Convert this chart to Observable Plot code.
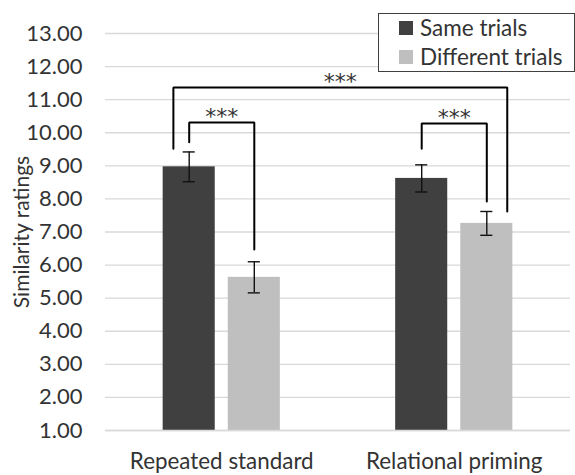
<!DOCTYPE html>
<html>
<head>
<meta charset="utf-8">
<script src="https://cdn.jsdelivr.net/npm/d3@7"></script>
<script src="https://cdn.jsdelivr.net/npm/@observablehq/plot@0.6"></script>
<style>
  html, body { margin: 0; padding: 0; background: #fff; }
  #wrap { position: relative; width: 575px; height: 475px; font-family: Lato, sans-serif; }
  #legend { position: absolute; left: 378px; top: 13px; width: 197px; height: 59px; border: 1px solid #404040; background: #fff; box-sizing: border-box; color: #333; font-size: 22.5px; }
  #legend .item { position: absolute; left: 20px; display: flex; align-items: center; white-space: nowrap; line-height: 26px; }
  #legend .sw { width: 14px; height: 14px; margin-right: 7px; display: inline-block; }
</style>
</head>
<body>
<div id="wrap"></div>
<script>
// ---- data ----
const groups = ["Repeated standard", "Relational priming"];
const conditions = ["Same trials", "Different trials"];
const colors = ["#404040", "#bfbfbf"];
const sameMeans = [8.97, 8.62];
const diffMeans = [5.63, 7.26];
const sameErr = [0.45, 0.41];
const diffErr = [0.47, 0.36];
const yTicks = [1,2,3,4,5,6,7,8,9,10,11,12,13];

// significance brackets: [group, condition, offset] for each end
const bracketLeft  = [[0, 0, 0], [1, 0, 0], [0, 0, -0.068]];
const bracketRight = [[0, 1, 0], [1, 1, 0], [1, 1, 0.088]];
const bracketTop   = [10.31, 10.28, 11.37];
const bracketLeftBottom  = [9.71, 9.52, 9.52];
const bracketRightBottom = [6.47, 7.92, 7.62];
const bracketLabel = ["***", "***", "***"];

// ---- layout helpers ----
const condOffset = [-0.14, 0.14];
const barHalf = 0.112;
const capHalf = 0.026;
const xOf = (g, c) => g + condOffset[c];

const bars = [];
groups.forEach((g, gi) => {
  [sameMeans, diffMeans].forEach((arr, ci) => {
    const err = ci === 0 ? sameErr[gi] : diffErr[gi];
    bars.push({group: g, gi, cond: conditions[ci], ci, value: arr[gi], lo: arr[gi] - err, hi: arr[gi] + err, xc: xOf(gi, ci)});
  });
});

const bracketPts = [];
const bracketText = [];
bracketTop.forEach((top, i) => {
  const [lg, lc, lo] = bracketLeft[i];
  const [rg, rc, ro] = bracketRight[i];
  const xl = xOf(lg, lc) + lo, xr = xOf(rg, rc) + ro;
  bracketPts.push({b: i, x: xl, y: bracketLeftBottom[i]});
  bracketPts.push({b: i, x: xl, y: top});
  bracketPts.push({b: i, x: xr, y: top});
  bracketPts.push({b: i, x: xr, y: bracketRightBottom[i]});
  bracketText.push({x: (xl + xr) / 2, y: top, t: bracketLabel[i]});
});

const chart = Plot.plot({
  width: 575,
  height: 475,
  marginLeft: 105,
  marginRight: 5,
  marginTop: 33,
  marginBottom: 45,
  style: {fontFamily: "Lato, sans-serif", color: "#333", background: "#fff"},
  x: {domain: [-0.5, 1.5], axis: null},
  y: {domain: [1, 13], axis: null},
  marks: [
    Plot.gridY(yTicks, {stroke: "#d9d9d9", strokeOpacity: 1, strokeWidth: 1.3}),
    Plot.rectY(bars, {x1: d => d.xc - barHalf, x2: d => d.xc + barHalf, y1: 1, y2: "value", fill: d => colors[d.ci]}),
    Plot.ruleY([1], {stroke: "#d9d9d9", strokeWidth: 1.3}),
    Plot.ruleX(bars, {x: "xc", y1: "lo", y2: "hi", stroke: "#111", strokeWidth: 1.4}),
    Plot.ruleY(bars, {y: "lo", x1: d => d.xc - capHalf, x2: d => d.xc + capHalf, stroke: "#111", strokeWidth: 1.4}),
    Plot.ruleY(bars, {y: "hi", x1: d => d.xc - capHalf, x2: d => d.xc + capHalf, stroke: "#111", strokeWidth: 1.4}),
    Plot.line(bracketPts, {x: "x", y: "y", z: "b", stroke: "#000", strokeWidth: 2, curve: "linear", strokeLinejoin: "miter"}),
    Plot.text(bracketText, {x: "x", y: "y", text: "t", dy: 1.5, lineAnchor: "bottom", fontSize: 22, fontFamily: "DejaVu Sans", fill: "#333", style: "letter-spacing:2px"}),
    Plot.axisY(yTicks, {tickSize: 0, tickPadding: 23, tickFormat: d3.format(".2f"), fontSize: 22, fill: "#333", label: null}),
    Plot.text(groups, {x: (d, i) => i, frameAnchor: "bottom", dy: 38, fontSize: 22.4, fill: "#333", text: d => d}),
    Plot.text(["Similarity ratings"], {frameAnchor: "left", textAnchor: "middle", dx: -83, rotate: -90, fontSize: 21, fill: "#333"})
  ]
});

const wrap = document.getElementById("wrap");
wrap.appendChild(chart);

const legend = document.createElement("div");
legend.id = "legend";
conditions.forEach((c, i) => {
  const it = document.createElement("div");
  it.className = "item";
  it.style.top = (i === 0 ? 1 : 30) + "px";
  const sw = document.createElement("span");
  sw.className = "sw";
  sw.style.background = colors[i];
  it.appendChild(sw);
  it.appendChild(document.createTextNode(c));
  legend.appendChild(it);
});
wrap.appendChild(legend);
</script>
</body>
</html>
